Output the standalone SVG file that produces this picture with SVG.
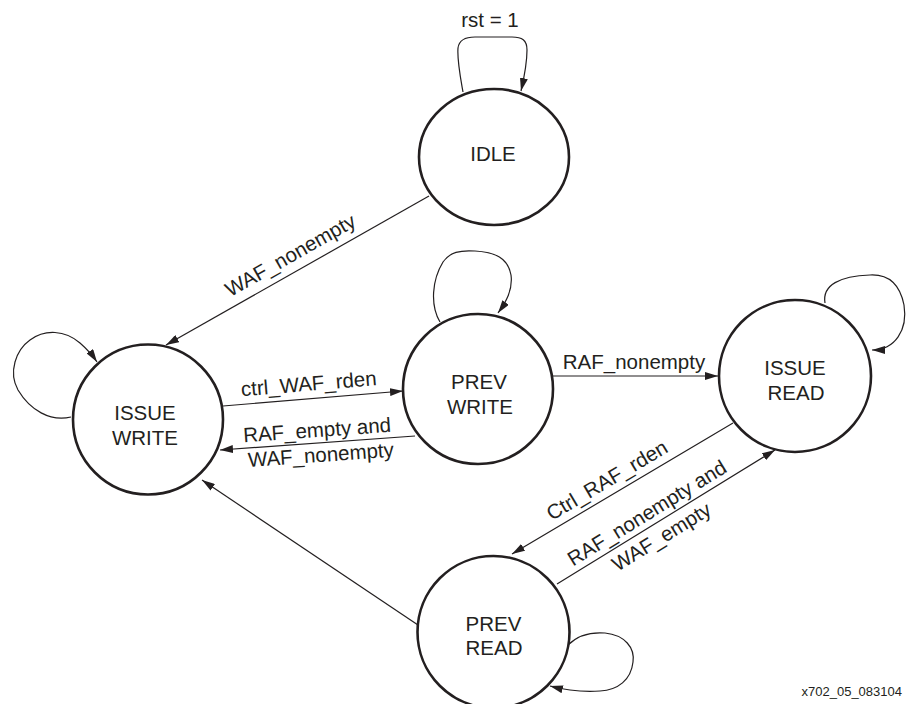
<svg xmlns="http://www.w3.org/2000/svg" width="908" height="704" viewBox="0 0 908 704">
<style>
.st{fill:#fff;stroke:#231f20;stroke-width:2.6}
.c{fill:none;stroke:#231f20;stroke-width:1.2;marker-end:url(#arr)}
text{font-family:"Liberation Sans",Arial,sans-serif;font-size:20.5px;fill:#231f20}
.m{text-anchor:middle}
.fn{font-size:13px;text-anchor:end}
</style>
<defs>
<marker id="arr" viewBox="0 0 13 8" refX="13" refY="4" markerWidth="13" markerHeight="8" markerUnits="userSpaceOnUse" orient="auto">
<path d="M0,0 L13,4 L0,8 z" fill="#231f20"/>
</marker>
</defs>
<rect width="908" height="704" fill="#fff"/>
<g id="connectors">
<path class="c" d="M463,92 C460,75 457,60 458,48 C459,40 465,37 475,37 L512,37 C522,37 527,40 527,50 C527,62 524,78 521,91"/>
<path class="c" d="M429,196 L166,345"/>
<path class="c" d="M71,417 C50,422 30,410 18,390 C8,372 16,350 30,340 C45,329 65,330 80,343 C88,350 93,356 97,362"/>
<path class="c" d="M223,406 L403,391"/>
<path class="c" d="M415,436 L220,450"/>
<path class="c" d="M440,322 C430,305 432,280 443,262 C450,252 460,250 475,251 C495,252 508,258 511,275 C513,290 506,302 498,313"/>
<path class="c" d="M553,376 L718,376"/>
<path class="c" d="M825,303 C822,285 840,276 870,275 C890,274 900,285 904,305 C908,330 895,350 872,350"/>
<path class="c" d="M733,423 L512,554"/>
<path class="c" d="M557,584 L775,450"/>
<path class="c" d="M418,625 L202,480"/>
<path class="c" d="M568,645 C578,635 592,632 605,633 C625,635 635,648 633,662 C631,680 618,690 600,691 C585,692 565,690 550,686"/>
<text class="m" x="490" y="27">rst = 1</text>
<text class="m" transform="translate(290,275) rotate(-29.5)" x="10" y="-10">WAF_nonempty</text>
<text class="m" transform="translate(310,398.7) rotate(-4.76)" x="0" y="-8">ctrl_WAF_rden</text>
<g transform="translate(318,443) rotate(-4.1)">
<text class="m" x="0" y="-6">RAF_empty and</text>
<text class="m" x="2" y="19">WAF_nonempty</text>
</g>
<text class="m" x="634" y="369">RAF_nonempty</text>
<text class="m" transform="translate(610,495.9) rotate(-30.7)" x="5.5" y="-8">Ctrl_RAF_rden</text>
<g transform="translate(650,526.8) rotate(-31.6)">
<text class="m" x="4.5" y="-6.3">RAF_nonempty and</text>
<text class="m" x="4.5" y="21.5">WAF_empty</text>
</g>
</g>
<g id="idle">
<ellipse class="st" cx="494" cy="157" rx="75" ry="68"/>
<text class="m" x="493" y="161">IDLE</text>
</g>
<g id="issue-write">
<circle class="st" cx="148" cy="419.5" r="75"/>
<text class="m" x="145" y="420">ISSUE</text>
<text class="m" x="145" y="445">WRITE</text>
</g>
<g id="prev-write">
<circle class="st" cx="478" cy="389" r="75"/>
<text class="m" x="479" y="389">PREV</text>
<text class="m" x="480" y="414">WRITE</text>
</g>
<g id="issue-read">
<circle class="st" cx="795" cy="376" r="76"/>
<text class="m" x="795" y="375">ISSUE</text>
<text class="m" x="796" y="400">READ</text>
</g>
<g id="prev-read">
<circle class="st" cx="493.5" cy="632" r="76"/>
<text class="m" x="493.5" y="631">PREV</text>
<text class="m" x="494" y="655">READ</text>
</g>
<text class="fn" x="902" y="696">x702_05_083104</text>
</svg>
